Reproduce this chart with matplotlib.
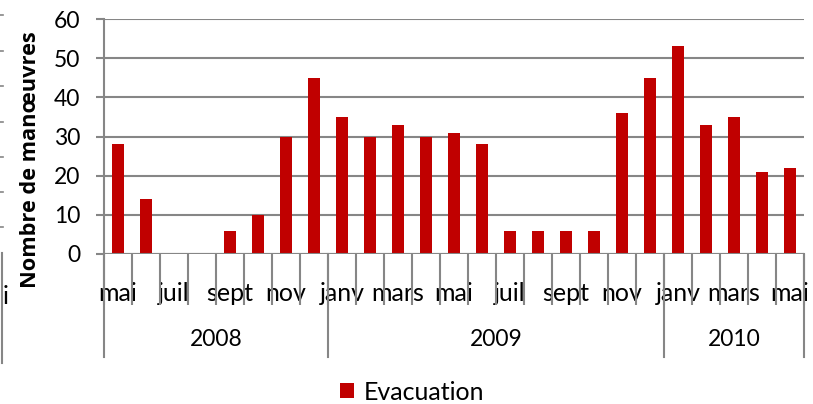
import matplotlib
matplotlib.use("Agg")
import matplotlib.pyplot as plt
import numpy as np

plt.rcParams['font.family'] = ['Lato', 'DejaVu Sans']

years = ["2008", "2009", "2010"]
months_per_year = [
    ["mai", "juin", "juil", "août", "sept", "oct", "nov", "déc"],
    ["janv", "févr", "mars", "avr", "mai", "juin", "juil", "août", "sept", "oct", "nov", "déc"],
    ["janv", "févr", "mars", "avr", "mai"],
]
evacuation = [28, 14, 0, 0, 6, 10, 30, 45,
              35, 30, 33, 30, 31, 28, 6, 6, 6, 6, 36, 45,
              53, 33, 35, 21, 22]

months = [m for ms in months_per_year for m in ms]
n = len(months)
x = np.arange(n)

GRID = "#868686"
RED = "#C00000"

fig = plt.figure(figsize=(8.13, 4.04), dpi=100)
W, H = 813, 404
left, right, top, bottom = 104, 804, 19, 254
ax = fig.add_axes([left / W, 1 - bottom / H, (right - left) / W, (bottom - top) / H])

ax.bar(x, evacuation, width=0.4, color=RED, zorder=3, label="Evacuation")
ax.set_xlim(-0.5, n - 0.5)
ax.set_ylim(0, 60)
ax.set_yticks(np.arange(0, 61, 10))
ax.yaxis.grid(True, color=GRID, linewidth=1.5, zorder=0)
for s in ["top", "right", "bottom"]:
    ax.spines[s].set_visible(False)
ax.spines["left"].set_color(GRID)
ax.spines["left"].set_linewidth(1.5)
ax.axhline(0, color=GRID, linewidth=1.5, zorder=4)
ax.tick_params(axis="y", length=6, width=1.5, color=GRID, labelsize=16.5, pad=11)

# category labels (every other month)
ax.set_xticks(x[::2])
ax.set_xticklabels(months[::2], fontsize=18)
ax.tick_params(axis="x", which="major", length=0, pad=20)
# minor tick marks at category boundaries
ax.set_xticks(np.arange(-0.5, n, 1.0), minor=True)
ax.tick_params(axis="x", which="minor", length=37, width=1.5, color=GRID)

# year separators and labels
trans = ax.get_xaxis_transform()
ax_h = bottom - top
y_low = -(357 - bottom) / ax_h
bounds = np.concatenate([[0], np.cumsum([len(m) for m in months_per_year])]) - 0.5
for b in bounds:
    ax.plot([b, b], [0, y_low], transform=trans, color=GRID, lw=1.5, clip_on=False)
for i, yr in enumerate(years):
    ax.text((bounds[i] + bounds[i + 1]) / 2, -(340 - bottom) / ax_h, yr,
            transform=trans, ha="center", va="center", fontsize=16.5)

fig.text(30 / W, 1 - 160 / H, "Nombre de manœuvres", rotation=90,
         ha="center", va="center", fontsize=15.7, fontweight="bold",
         family=["Open Sans", "DejaVu Sans"])

leg = fig.legend(loc="center", bbox_to_anchor=(412 / W, 1 - 392 / H), frameon=False,
                 fontsize=18, handlelength=0.55, handleheight=0.55, handletextpad=0.4)

# remnants of a neighbouring chart on the left edge
for yy in [15, 51, 86, 122, 157, 192, 227]:
    fig.add_artist(plt.Line2D([0, 3 / W], [1 - yy / H] * 2, color=GRID, lw=1.2))
fig.add_artist(plt.Line2D([1.5 / W] * 2, [1 - 253 / H, 1 - 363 / H], color=GRID, lw=1.5))
fig.text(3 / W, 1 - 297 / H, "i", fontsize=18, ha="left", va="center")

fig.savefig("out.png", dpi=100)
